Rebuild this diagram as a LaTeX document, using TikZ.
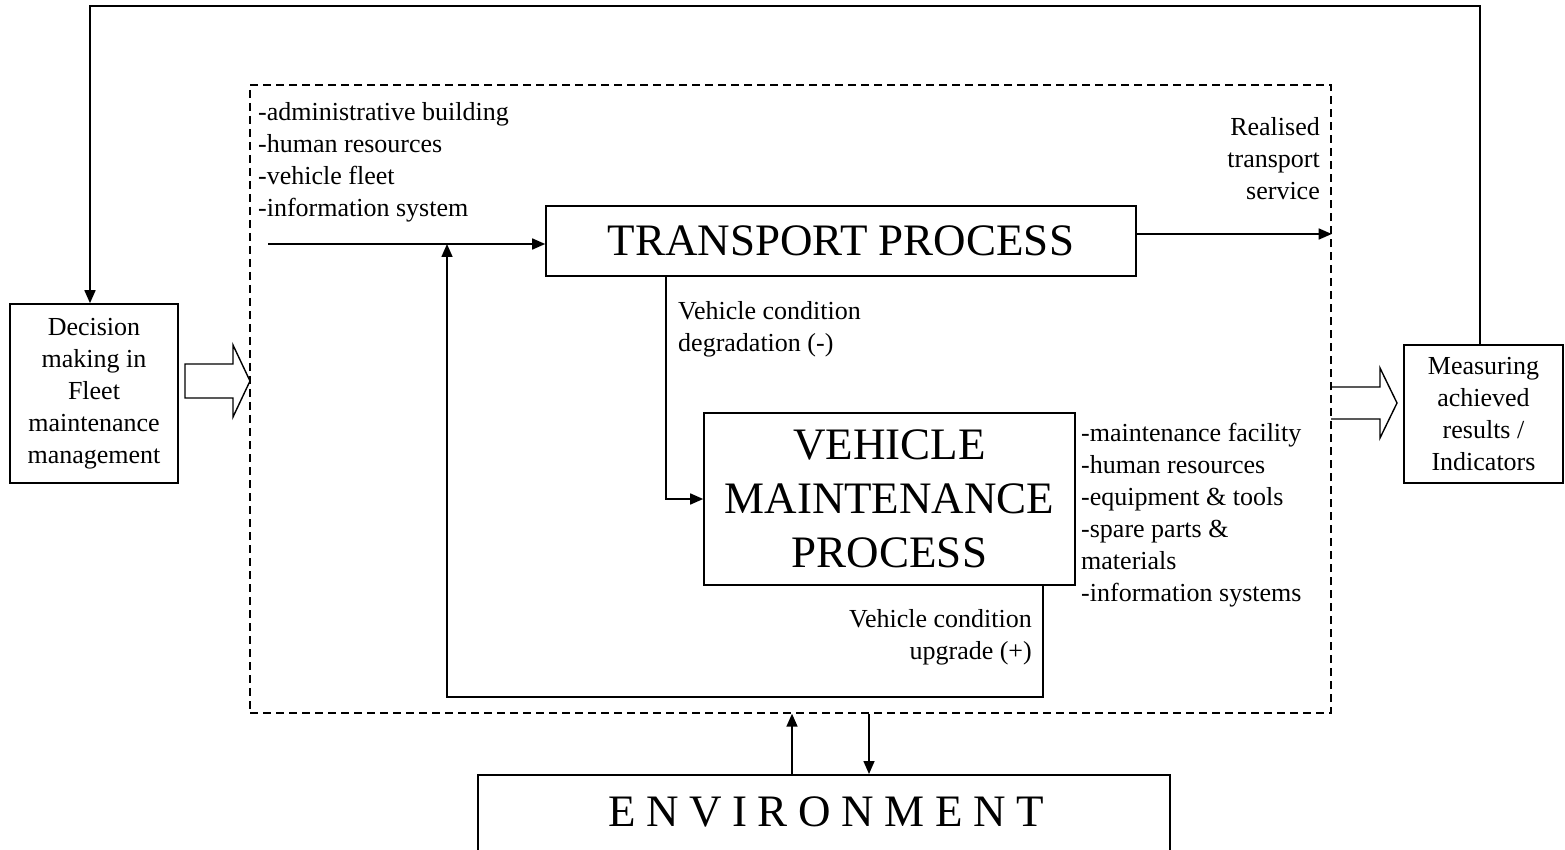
\documentclass[tikz,border=0pt]{standalone}
\usepackage{fontspec}
\setmainfont{Liberation Serif}
\usetikzlibrary{arrows.meta,calc}
\begin{document}
\begin{tikzpicture}[x=1pt,y=-1pt,
  box/.style={draw, line width=1.6pt, inner sep=0pt, align=center},
  small/.style={font=\fontsize{26}{32}\selectfont},
  big/.style={font=\fontsize{45}{54}\selectfont},
  label/.style={small, inner sep=0pt},
  conn/.style={line width=1.6pt, -{Triangle[length=13pt,width=11pt]}},
  hollow/.style={line width=1.4pt, line join=miter},
  frame/.style={draw, line width=1.4pt, dash pattern=on 8pt off 5pt}]
\useasboundingbox (0,0) rectangle (1565,850);

% main blocks
\node[box, small, minimum width=168pt, minimum height=179pt] (dec) at (94,393.5)
  {Decision\\making in\\Fleet\\maintenance\\management};
\node[box, small, minimum width=159pt, minimum height=138pt] (meas) at (1483.5,414)
  {Measuring\\achieved\\results /\\Indicators};
\node[frame, inner sep=0pt, minimum width=1081pt, minimum height=628pt] (sys) at (790.5,399) {};
\node[box, big, minimum width=590pt, minimum height=70pt] (tp) at (841,241) {TRANSPORT PROCESS};
\node[box, big, minimum width=371pt, minimum height=172pt] (vm) at (889.5,499)
  {VEHICLE\\MAINTENANCE\\PROCESS};
\node[box, minimum width=692pt, minimum height=150pt, anchor=north] (env) at (824,774) {};
\def\ls{\kern10.6pt}
\node[big, inner sep=0pt] (envtext) at (826,812)
  {E\ls N\ls V\ls I\ls R\ls O\ls N\ls M\ls E\ls N\ls T};

% resource and flow labels
\node[label, anchor=north west, align=left] (res1) at (258,97.6)
  {\strut -administrative building\\-human resources\\-vehicle fleet\\-information system};
\node[label, anchor=north east, align=right] (realised) at (1320,112.6)
  {\strut Realised\\transport\\service};
\node[label, anchor=north west, align=left] (degr) at (678,296.6)
  {\strut Vehicle condition\\degradation (-)};
\node[label, anchor=north east, align=right] (upg) at (1032,604.6)
  {\strut Vehicle condition\\upgrade (+)};
\node[label, anchor=north west, align=left] (res2) at (1081,418.6)
  {\strut -maintenance facility\\-human resources\\-equipment \& tools\\-spare parts \&\\materials\\-information systems};

% hollow block arrows
\draw[hollow] (185,364) -- (233,364) -- (233,345) -- (250,381) -- (233,417) -- (233,398) -- (185,398) -- cycle;
\draw[hollow] (1331,387) -- (1380,387) -- (1380,368) -- (1397,403) -- (1380,438) -- (1380,419) -- (1331,419);

% connectors
\coordinate (top) at (0,6);
\draw[conn] ([xshift=-3.5pt]meas.north) -- ([xshift=-3.5pt]meas.north |- top)
  -- ([xshift=-4pt]dec.north |- top) -- ([xshift=-4pt]dec.north);

\coordinate (inA) at (268,244);
\draw[conn] (inA) -- (inA -| tp.west);

\draw[conn] ([yshift=7pt]tp.east) -- ([yshift=7pt]tp.east -| sys.east);

\draw[conn] ([xshift=-175pt]tp.south) |- (vm.west);

\coordinate (fb) at (447,697);
\draw[conn] ([xshift=153.5pt]vm.south) |- (fb) -- (fb |- inA);

\draw[conn] ([xshift=-32pt]env.north) -- ([xshift=-32pt]env.north |- sys.south);
\draw[conn] ([xshift=45pt]env.north |- sys.south) -- ([xshift=45pt]env.north);
\end{tikzpicture}
\end{document}
